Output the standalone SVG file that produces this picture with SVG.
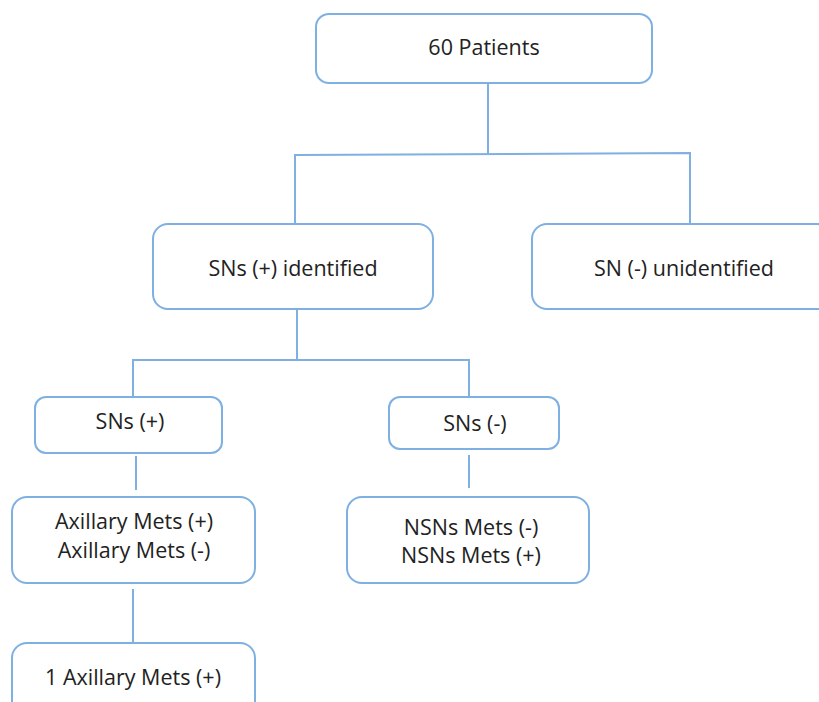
<svg xmlns="http://www.w3.org/2000/svg" width="819" height="702" viewBox="0 0 819 702">
<style>
.box{fill:#ffffff;stroke:#7eb0e2;stroke-width:2}
.ln{fill:none;stroke:#7eb0e2;stroke-width:2}
text{font-family:"Open Sans","Liberation Sans",sans-serif;font-size:21.5px;fill:#222222;text-anchor:middle}
</style>
<rect width="819" height="702" fill="#ffffff"/>
<g id="connectors">
<path class="ln" d="M488 83 V154"/>
<path class="ln" d="M295 224 V155 L690 153 V224"/>
<path class="ln" d="M297 309 V360"/>
<path class="ln" d="M133 397 V360 H469 V397"/>
<path class="ln" d="M136 456 V490"/>
<path class="ln" d="M469 455 V488"/>
<path class="ln" d="M133 589 V642"/>
</g>
<g id="n_patients">
<rect class="box" x="316" y="14" width="336" height="69" rx="13"/>
<text x="484" y="55">60 Patients</text>
</g>
<g id="n_identified">
<rect class="box" x="153" y="224" width="280" height="85" rx="15"/>
<text x="293" y="276">SNs (+) identified</text>
</g>
<g id="n_unidentified">
<rect class="box" x="532" y="224" width="300" height="85" rx="15"/>
<text x="684" y="276">SN (-) unidentified</text>
</g>
<g id="n_snpos">
<rect class="box" x="35" y="397" width="187" height="56" rx="11"/>
<text x="130" y="429">SNs (+)</text>
</g>
<g id="n_snneg">
<rect class="box" x="389" y="397" width="170" height="52" rx="11"/>
<text x="475" y="431">SNs (-)</text>
</g>
<g id="n_axillary">
<rect class="box" x="12" y="497" width="243" height="86" rx="15"/>
<text x="134" y="529">Axillary Mets (+)</text>
<text x="134" y="558">Axillary Mets (-)</text>
</g>
<g id="n_nsns">
<rect class="box" x="347" y="497" width="242" height="86" rx="15"/>
<text x="471" y="535">NSNs Mets (-)</text>
<text x="471" y="563">NSNs Mets (+)</text>
</g>
<g id="n_one_axillary">
<rect class="box" x="12" y="643" width="243" height="80" rx="15"/>
<text x="133" y="685">1 Axillary Mets (+)</text>
</g>
</svg>
